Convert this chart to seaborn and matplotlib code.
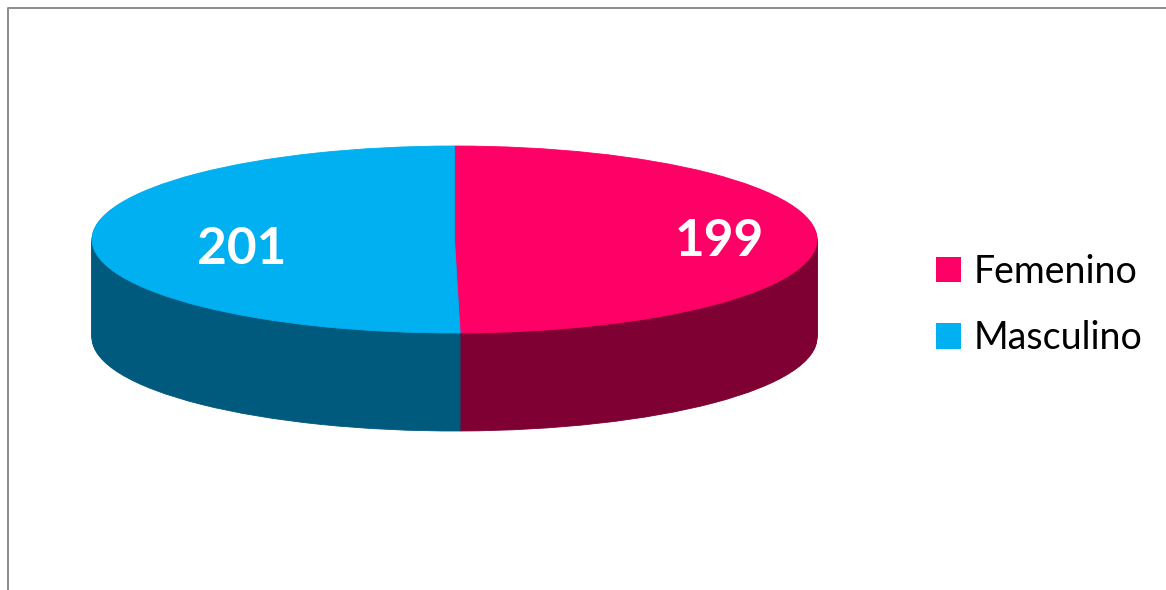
import matplotlib
matplotlib.use("Agg")
import matplotlib.pyplot as plt
import seaborn as sns
from matplotlib.patches import Patch

categories = ["Femenino", "Masculino"]
values = [199, 201]
top_colors = ["#FF0066", "#00B0F0"]
side_colors = ["#7F0033", "#005A7D"]

W, H = 1166, 590

sns.set_theme(style="white")
plt.rcParams["font.family"] = ["Lato", "DejaVu Sans"]

fig = plt.figure(figsize=(W / 100, H / 100), dpi=100)

# --- fondo en pixeles, para marco, textos y leyenda ---
bg = fig.add_axes([0, 0, 1, 1])
bg.set_xlim(0, W)
bg.set_ylim(H, 0)
bg.axis("off")
bg.plot([8, 8, W], [H, 8, 8], color="#8C8C8C", lw=1.4, solid_capstyle="butt")

# --- disco: elipse de 726x187 px, con 98 px de grosor ---
left, right, top, bottom = 92, 817, 146, 333
depth_px = 98
ry = (bottom - top) / 2

ax = fig.add_axes([left / W, 1 - (bottom + depth_px) / H,
                   (right - left) / W, (bottom + depth_px - top) / H])

# lateral: el mismo pie apilado hacia abajo, pixel a pixel
for step in range(depth_px, 0, -1):
    wedges, _ = ax.pie(values, colors=side_colors, startangle=90, counterclock=False,
                       center=(0, -step / ry), radius=1, frame=True)
    for w, c in zip(wedges, side_colors):
        w.set_edgecolor(c)
        w.set_linewidth(0.6)

wedges, _ = ax.pie(values, colors=top_colors, startangle=90, counterclock=False,
                   center=(0, 0), radius=1, frame=True)
for w, c in zip(wedges, top_colors):
    w.set_edgecolor(c)
    w.set_linewidth(0.6)

# pie() fuerza aspecto igual y limites propios
ax.set_aspect("auto")
ax.set_xlim(-1, 1)
ax.set_ylim(-1 - depth_px / ry, 1)
ax.axis("off")

# --- etiquetas de valores ---
bg.text(719, 241, str(values[0]), color="white", fontsize=37, fontweight="bold",
        ha="center", va="center", zorder=5)
bg.text(242, 250, str(values[1]), color="white", fontsize=37, fontweight="bold",
        ha="center", va="center", zorder=5)
bg.set_zorder(3)
bg.patch.set_alpha(0)

# --- leyenda ---
handles = [Patch(facecolor=c, edgecolor="none") for c in top_colors]
bg.legend(handles, categories, loc="center left", bbox_to_anchor=(936 / W, 1 - 305 / H),
          bbox_transform=fig.transFigure, frameon=False, fontsize=27,
          labelcolor="black", handlelength=0.667, handleheight=0.667,
          handletextpad=0.33, labelspacing=0.816, borderpad=0, borderaxespad=0)

fig.savefig("out.png", dpi=100, facecolor="white")
